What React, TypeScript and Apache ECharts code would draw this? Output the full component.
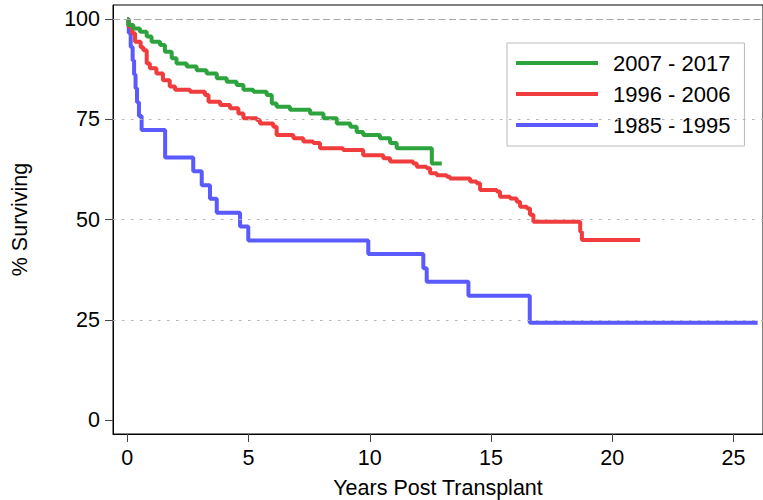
import React, { useEffect, useRef } from "react";
import * as echarts from "echarts";

// ---- data ----
const groupNames = ["2007 - 2017", "1996 - 2006", "1985 - 1995"];
const groupColors = ["#2ca33c", "#f03c3c", "#5a5aff"];

// Kaplan-Meier steps: at time t (years) survival drops to S (%)
const greenTimes = [0, 0.04, 0.25, 0.52, 0.8, 1.0, 1.35, 1.55, 1.83, 2.03, 2.45, 2.86, 3.27, 3.69, 4.1, 4.51, 4.79, 5.2, 5.75, 5.96, 6.16, 6.71, 7.54, 8.09, 8.64, 9.2, 9.46, 9.73, 10.42, 10.84, 11.11, 12.56];
const greenSurv = [100, 98.6, 97.7, 96.9, 95.7, 94.4, 93.6, 91.9, 90.3, 89.0, 88.2, 87.3, 86.5, 85.3, 84.4, 83.6, 82.4, 81.9, 81.1, 79.0, 78.2, 77.4, 76.5, 75.3, 74.0, 73.2, 71.9, 71.1, 70.3, 69.1, 67.8, 64.0];
const greenEnd = 12.97;

const redTimes = [0, 0.05, 0.2, 0.32, 0.55, 0.66, 0.8, 0.93, 1.2, 1.47, 1.75, 1.97, 2.59, 3.2, 3.35, 3.83, 4.24, 4.58, 4.79, 5.34, 5.47, 6.02, 6.16, 6.85, 7.26, 7.67, 7.95, 8.9, 9.73, 10.56, 10.84, 11.79, 11.94, 12.35, 12.49, 12.76, 13.18, 13.31, 14.14, 14.41, 14.55, 15.24, 15.37, 15.79, 16.06, 16.2, 16.48, 16.61, 16.75, 18.68, 18.75];
const redSurv = [100, 98.2, 96.5, 94.4, 93.0, 92.3, 89.0, 87.8, 86.5, 84.8, 83.2, 82.4, 81.9, 81.1, 79.4, 78.6, 77.8, 76.5, 75.3, 74.9, 74.0, 73.2, 71.1, 70.3, 69.5, 69.1, 67.8, 67.4, 66.1, 65.3, 64.5, 64.0, 63.2, 62.8, 61.6, 61.1, 60.7, 60.3, 59.5, 59.1, 57.4, 57.0, 55.7, 55.3, 54.5, 53.2, 52.8, 51.2, 49.5, 47.0, 44.9];
const redEnd = 21.15;

const blueTimes = [0, 0.06, 0.14, 0.22, 0.28, 0.34, 0.4, 0.48, 0.59, 1.56, 2.72, 3.07, 3.41, 3.69, 4.65, 4.99, 9.94, 12.21, 12.35, 14.07, 16.6];
const blueSurv = [100, 96.6, 93.1, 89.7, 86.2, 82.8, 79.3, 75.9, 72.4, 65.5, 62.1, 58.6, 55.2, 51.7, 48.3, 44.8, 41.4, 37.9, 34.5, 31.0, 24.3];
const blueEnd = 26.0;

const xTicks = [0, 5, 10, 15, 20, 25];
const yTicks = [0, 25, 50, 75, 100];
const dottedGrid = [25, 50, 75];
const dashedGrid = [100];

const FONT = "'Liberation Sans', Arial, Helvetica, sans-serif";

function steps(times: number[], surv: number[], end: number) {
  const d = times.map((t, i) => [t, surv[i]]);
  d.push([end, surv[surv.length - 1]]);
  return d;
}

export default function App() {
  const ref = useRef<HTMLDivElement>(null);
  useEffect(() => {
    if (!ref.current) return;
    const chart = echarts.init(ref.current, undefined, { renderer: "svg" });
    const curves = [
      { name: groupNames[2], color: groupColors[2], data: steps(blueTimes, blueSurv, blueEnd) },
      { name: groupNames[1], color: groupColors[1], data: steps(redTimes, redSurv, redEnd) },
      { name: groupNames[0], color: groupColors[0], data: steps(greenTimes, greenSurv, greenEnd) },
    ];
    chart.setOption({
      animation: false,
      backgroundColor: "#fff",
      textStyle: { fontFamily: FONT },
      grid: {
        left: 113,
        right: 0,
        top: 5,
        bottom: 66,
        containLabel: false,
        outerBoundsMode: "none",
        show: true,
        borderColor: "#000",
        borderWidth: 1,
        backgroundColor: "transparent",
      },
      legend: {
        data: groupNames,
        orient: "vertical",
        left: 507,
        top: 43,
        padding: [9, 14, 10, 9],
        itemGap: 9,
        itemWidth: 82,
        itemHeight: 4,
        icon: "rect",
        borderColor: "#bbb",
        borderWidth: 1,
        borderRadius: 0,
        backgroundColor: "#fff",
        selectedMode: false,
        textStyle: {
          fontFamily: FONT,
          fontSize: 22,
          lineHeight: 22,
          color: "#000",
          padding: [0, 0, 0, 10],
        },
      },
      xAxis: {
        type: "value",
        min: -0.59,
        max: 26.22,
        name: "Years Post Transplant",
        nameLocation: "middle",
        nameGap: 43,
        nameTextStyle: { fontFamily: FONT, fontSize: 21.5, color: "#000" },
        axisLine: { show: true, onZero: false, lineStyle: { color: "#000", width: 1 } },
        axisTick: { show: true, customValues: xTicks, length: 8, lineStyle: { color: "#444" } },
        axisLabel: { customValues: xTicks, margin: 13, fontFamily: FONT, fontSize: 21.5, color: "#000" },
        splitLine: { show: false },
      },
      yAxis: {
        type: "value",
        min: -3.49,
        max: 103.57,
        name: "% Surviving",
        nameLocation: "middle",
        nameGap: 82,
        nameTextStyle: { fontFamily: FONT, fontSize: 21.5, color: "#000" },
        axisLine: { show: true, onZero: false, lineStyle: { color: "#000", width: 1 } },
        axisTick: { show: true, customValues: yTicks, length: 8, lineStyle: { color: "#444" } },
        axisLabel: { customValues: yTicks, margin: 13, fontFamily: FONT, fontSize: 21.5, color: "#000" },
        splitLine: { show: false },
      },
      series: [
        {
          type: "line",
          name: "grid",
          data: [],
          silent: true,
          z: 1,
          markLine: {
            silent: true,
            symbol: "none",
            label: { show: false },
            animation: false,
            data: [
              ...dottedGrid.map((v) => ({ yAxis: v, lineStyle: { color: "#b4b4b4", width: 1.2, type: [2.5, 6.5] } })),
              ...dashedGrid.map((v) => ({ yAxis: v, lineStyle: { color: "#a8a8a8", width: 1.2, type: [7, 3.5] } })),
            ],
          },
        },
        ...curves.map((c) => ({
          type: "line",
          name: c.name,
          data: c.data,
          step: "end",
          showSymbol: false,
          symbol: "none",
          color: c.color,
          lineStyle: { color: c.color, width: 4 },
          z: 3,
        })),
      ],
    });
    return () => chart.dispose();
  }, []);
  return <div ref={ref} style={{ position: "fixed", left: 0, top: 0, width: 763, height: 500 }} />;
}
